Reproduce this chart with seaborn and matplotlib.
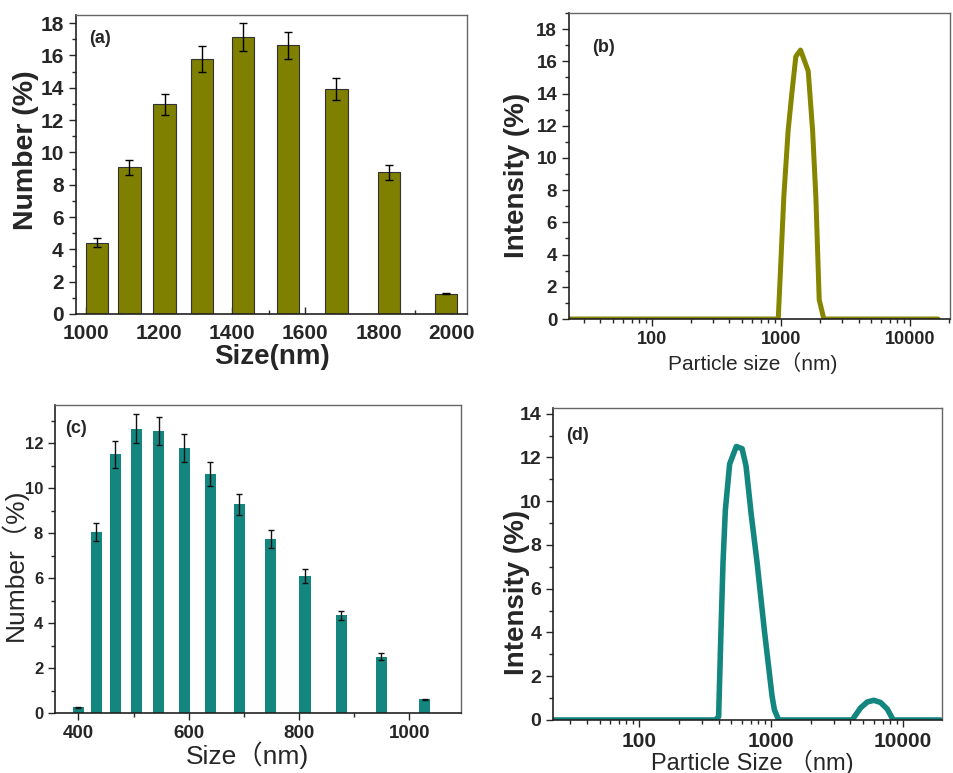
import numpy as np
import pandas as pd
import seaborn as sns
import matplotlib.pyplot as plt
from matplotlib.ticker import MultipleLocator, LogLocator, NullFormatter

# (a) number distribution, olive sample
a_size = [1031, 1119, 1215, 1318, 1430, 1552, 1685, 1828, 1984]
a_num = [4.41, 9.07, 12.97, 15.79, 17.13, 16.62, 13.9, 8.76, 1.26]
a_err = [0.27, 0.46, 0.66, 0.81, 0.88, 0.85, 0.69, 0.45, 0.05]

# (b) intensity distribution, olive sample
b_size = [22, 955, 1055, 1139, 1224, 1307, 1421, 1629, 1762, 1867, 1982, 2153, 16500]
b_int = [0, 0, 7.6, 11.7, 14.2, 16.3, 16.7, 15.4, 11.7, 7.6, 1.2, 0, 0]

# (c) number distribution, teal sample
c_size = [400, 432, 467, 505, 546, 592, 639, 692, 749, 811, 877, 949, 1028]
c_num = [0.26, 8.06, 11.51, 12.64, 12.55, 11.78, 10.63, 9.28, 7.75, 6.09, 4.34, 2.5, 0.61]
c_err = [0.02, 0.41, 0.59, 0.65, 0.63, 0.63, 0.54, 0.47, 0.41, 0.32, 0.22, 0.15, 0.02]

# (d) intensity distribution, teal sample
d_size = [22, 378, 400, 417, 432, 450, 485, 545, 603, 646, 705, 783, 889, 1018, 1060,
          1142, 4120, 4765, 5355, 6015, 6760, 7600, 8440, 19300]
d_int = [0, 0, 0.15, 4.1, 7.2, 9.6, 11.7, 12.5, 12.4, 11.6, 9.45, 7.2, 4.1, 1.07, 0.46,
         0, 0, 0.55, 0.82, 0.9, 0.8, 0.5, 0, 0]

olive = "#7f7f00"
olive_line = "#858500"
teal = "#13867f"

sns.set_theme(style="ticks")
plt.rcParams['font.family'] = ['Liberation Sans', 'Noto Sans CJK SC']
cjk = ['Liberation Sans', 'Noto Sans CJK SC']

fig = plt.figure(figsize=(9.54, 7.73), dpi=100)
ax_a = fig.add_axes([0.0797, 0.5938, 0.4099, 0.3868])
ax_b = fig.add_axes([0.5964, 0.5873, 0.3994, 0.3959])
ax_c = fig.add_axes([0.0577, 0.0776, 0.4256, 0.3984])
ax_d = fig.add_axes([0.5797, 0.0686, 0.4078, 0.4036])


def style_box(ax):
    for side in ["left", "bottom"]:
        ax.spines[side].set_color("#222222")
        ax.spines[side].set_linewidth(1.2)
    for side in ["top", "right"]:
        ax.spines[side].set_visible(True)
        ax.spines[side].set_color("#666666")
        ax.spines[side].set_linewidth(1.0)


def bold_ticks(ax, xsize, ysize):
    ax.tick_params(axis="x", labelsize=xsize)
    ax.tick_params(axis="y", labelsize=ysize)
    for lab in ax.get_xticklabels() + ax.get_yticklabels():
        lab.set_fontweight("bold")


# ---- (a)
df_a = pd.DataFrame({"size": a_size, "num": a_num})
sns.barplot(data=df_a, x="size", y="num", native_scale=True, width=0.69,
            color=olive, saturation=1, edgecolor="#333333", linewidth=0.8,
            errorbar=None, ax=ax_a)
ax_a.errorbar(a_size, a_num, yerr=a_err, fmt="none", ecolor="black",
              elinewidth=1, capsize=3, capthick=1)
ax_a.set_xlim(973, 2042)
ax_a.set_ylim(0, 18.5)
ax_a.xaxis.set_major_locator(MultipleLocator(200))
ax_a.xaxis.set_minor_locator(MultipleLocator(100))
ax_a.yaxis.set_major_locator(MultipleLocator(2))
ax_a.yaxis.set_minor_locator(MultipleLocator(1))
ax_a.tick_params(axis="x", which="both", direction="in", pad=7)
ax_a.tick_params(axis="y", which="both", direction="out", pad=4)
ax_a.tick_params(which="major", length=5, width=1)
ax_a.tick_params(which="minor", length=3, width=1)
bold_ticks(ax_a, 15, 15)
ax_a.set_xlabel("Size(nm)", fontsize=20, fontweight="bold")
ax_a.set_ylabel("Number (%)", fontsize=20.5, fontweight="bold")
ax_a.xaxis.set_label_coords(0.5, -0.10)
ax_a.yaxis.set_label_coords(-0.094, 0.548)
ax_a.text(0.033, 0.923, "(a)", transform=ax_a.transAxes, fontsize=13,
          fontweight="bold", va="center", ha="left")
style_box(ax_a)

# ---- (b)
ax_b.set_xscale("log")
sns.lineplot(x=b_size, y=b_int, color=olive_line, linewidth=3.6, ax=ax_b)
ax_b.set_xlim(22.9, 20400)
ax_b.set_ylim(0, 19)
ax_b.xaxis.set_minor_locator(LogLocator(base=10, subs=np.arange(2, 10), numticks=20))
ax_b.xaxis.set_minor_formatter(NullFormatter())
ax_b.set_xticks([100, 1000, 10000], ["100", "1000", "10000"])
ax_b.yaxis.set_major_locator(MultipleLocator(2))
ax_b.yaxis.set_minor_locator(MultipleLocator(1))
ax_b.tick_params(which="both", direction="out")
ax_b.tick_params(which="major", length=5, width=1)
ax_b.tick_params(which="minor", length=3, width=1)
bold_ticks(ax_b, 13, 13.5)
ax_b.set_xlabel("Particle size（nm)", fontsize=15, family=cjk)
ax_b.set_ylabel("Intensity (%)", fontsize=20, fontweight="bold")
ax_b.xaxis.set_label_coords(0.483, -0.108)
ax_b.yaxis.set_label_coords(-0.102, 0.47)
ax_b.text(0.06, 0.886, "(b)", transform=ax_b.transAxes, fontsize=13,
          fontweight="bold", va="center", ha="left")
style_box(ax_b)

# ---- (c)
df_c = pd.DataFrame({"size": c_size, "num": c_num})
sns.barplot(data=df_c, x="size", y="num", native_scale=True, width=0.625,
            color=teal, saturation=1, linewidth=0, errorbar=None, ax=ax_c)
ax_c.errorbar(c_size, c_num, yerr=c_err, fmt="none", ecolor="#111111",
              elinewidth=1, capsize=2.5, capthick=1)
ax_c.set_xlim(357.7, 1094)
ax_c.set_ylim(0, 13.7)
ax_c.xaxis.set_major_locator(MultipleLocator(200))
ax_c.xaxis.set_minor_locator(MultipleLocator(100))
ax_c.yaxis.set_major_locator(MultipleLocator(2))
ax_c.yaxis.set_minor_locator(MultipleLocator(1))
ax_c.tick_params(which="both", direction="out")
ax_c.tick_params(which="major", length=5, width=1)
ax_c.tick_params(which="minor", length=3, width=1)
bold_ticks(ax_c, 13.5, 12)
ax_c.set_xlabel("Size（nm)", fontsize=19, family=cjk)
ax_c.set_ylabel("Number（%)", fontsize=19, family=cjk)
ax_c.xaxis.set_label_coords(0.474, -0.092)
ax_c.yaxis.set_label_coords(-0.066, 0.48)
ax_c.text(0.025, 0.925, "(c)", transform=ax_c.transAxes, fontsize=13,
          fontweight="bold", va="center", ha="left")
style_box(ax_c)

# ---- (d)
ax_d.set_xscale("log")
sns.lineplot(x=d_size, y=d_int, color=teal, linewidth=4, ax=ax_d)
ax_d.set_xlim(22.2, 19800)
ax_d.set_ylim(0, 14.26)
ax_d.xaxis.set_minor_locator(LogLocator(base=10, subs=np.arange(2, 10), numticks=20))
ax_d.xaxis.set_minor_formatter(NullFormatter())
ax_d.set_xticks([100, 1000, 10000], ["100", "1000", "10000"])
ax_d.yaxis.set_major_locator(MultipleLocator(2))
ax_d.yaxis.set_minor_locator(MultipleLocator(1))
ax_d.tick_params(which="both", direction="out")
ax_d.tick_params(which="major", length=5, width=1)
ax_d.tick_params(which="minor", length=3, width=1)
bold_ticks(ax_d, 15, 14)
ax_d.set_xlabel("Particle Size （nm)", fontsize=17, family=cjk)
ax_d.set_ylabel("Intensity (%)", fontsize=20, fontweight="bold")
ax_d.xaxis.set_label_coords(0.513, -0.095)
ax_d.yaxis.set_label_coords(-0.06, 0.41)
ax_d.text(0.033, 0.913, "(d)", transform=ax_d.transAxes, fontsize=13,
          fontweight="bold", va="center", ha="left")
style_box(ax_d)

fig.savefig("out.png", dpi=100)
